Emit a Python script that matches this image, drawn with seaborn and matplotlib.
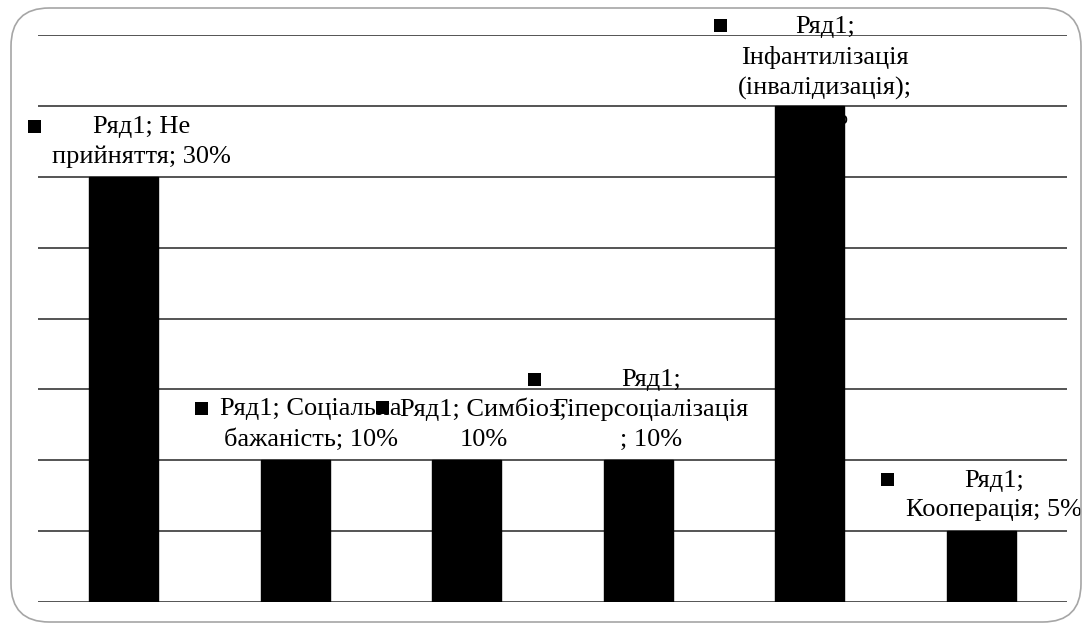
import matplotlib
matplotlib.use("Agg")
import matplotlib.pyplot as plt
import seaborn as sns
import pandas as pd
from matplotlib.patches import FancyBboxPatch

categories = ["Не прийняття", "Соціальна бажаність", "Симбіоз", "Гіперсоціалізація",
              "Інфантилізація (інвалідизація)", "Кооперація"]
values = [30, 10, 10, 10, 35, 5]
series_name = "Ряд1"
label_texts = [
    "Ряд1; Не\nприйняття; 30%",
    "Ряд1; Соціальна\nбажаність; 10%",
    "Ряд1; Симбіоз;\n10%",
    "Ряд1;\nГіперсоціалізація\n; 10%",
    "Ряд1;\nІнфантилізація\n(інвалідизація);\n35%",
    "Ряд1;\nКооперація; 5%",
]
y_ticks = [0, 5, 10, 15, 20, 25, 30, 35, 40]

sns.set_theme(style="white")
plt.rcParams['font.family'] = ['Liberation Serif', 'DejaVu Serif']
SERIF = ['Liberation Serif', 'DejaVu Serif']

fig = plt.figure(figsize=(10.92, 6.30), dpi=100)
ax = fig.add_axes([38/1092, 1 - 602/630, (1067-38)/1092, (602-35)/630])

# rounded border
border = FancyBboxPatch((11/1092, 8/630), (1081-11)/1092, (622-8)/630,
                        boxstyle="round,pad=0,rounding_size=0.035",
                        transform=fig.transFigure, facecolor='none',
                        edgecolor='#a6a6a6', linewidth=1.2, mutation_aspect=1092/630)
fig.patches.append(border)

df = pd.DataFrame({"cat": categories, "val": values})
sns.barplot(data=df, x="cat", y="val", color="black", width=0.4, ax=ax,
            saturation=1, edgecolor="black", zorder=3)

ax.set_ylim(0, 40)
ax.set_xlim(-0.5, len(categories) - 0.5)
ax.set_yticks(y_ticks)
ax.yaxis.grid(True, color='#262626', linewidth=1.1)
ax.set_axisbelow(True)
for s in ax.spines.values():
    s.set_visible(False)
ax.set_xticks([])
ax.set_yticklabels([])
ax.tick_params(left=False, bottom=False)
ax.set_xlabel("")
ax.set_ylabel("")

# label offsets (points): dx, dy of the bottom of the text block relative to bar top
offsets = [(13, 6), (11, 7), (12, 7), (9, 7), (11, -17), (9, 7)]
fontsize = 19
texts = []
for i, (v, lab) in enumerate(zip(values, label_texts)):
    dx, dy = offsets[i]
    t = ax.annotate(lab, xy=(i, v), xytext=(dx, dy), textcoords='offset points',
                    ha='center', va='bottom', fontsize=fontsize, linespacing=1.45,
                    family=SERIF, color='black', zorder=2, annotation_clip=False)
    texts.append(t)

fig.canvas.draw()
r = fig.canvas.get_renderer()
for i, t in enumerate(texts):
    bb = t.get_window_extent(r)
    mx = bb.x0 - 18
    my = bb.y1 - 10
    fig.patches.append(plt.Rectangle((mx - 6.5, my - 6.5), 13, 13, transform=None,
                                     facecolor='black', edgecolor='none', zorder=4))

fig.savefig("out.png", dpi=100)
